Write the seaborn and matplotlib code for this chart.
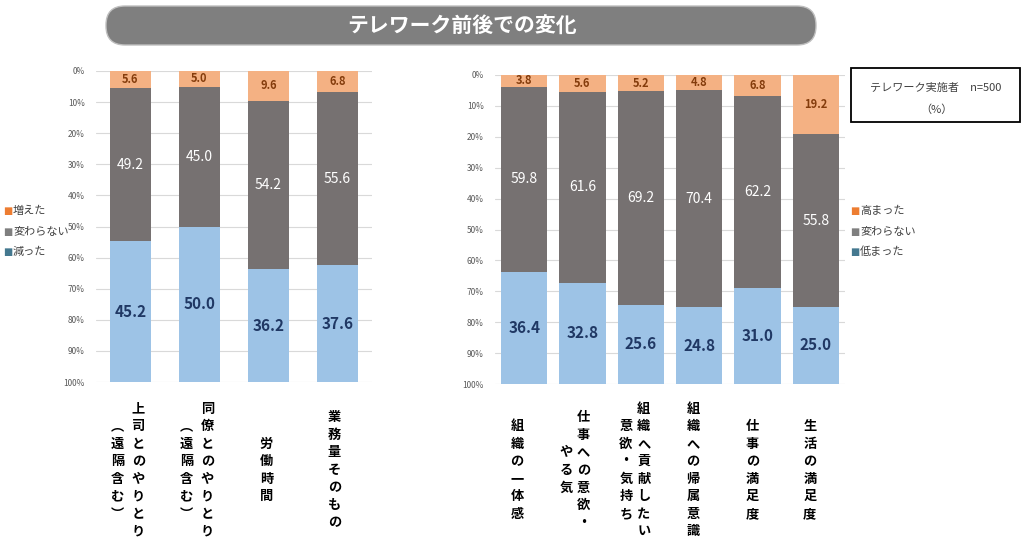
import numpy as np
import pandas as pd
import seaborn as sns
import matplotlib.pyplot as plt
from matplotlib.patches import FancyBboxPatch, Rectangle
from matplotlib.transforms import blended_transform_factory, offset_copy

# left chart: relationships / workload
left_cats = ["上司", "同僚", "労働時間", "業務量"]
left_up = [5.6, 5.0, 9.6, 6.8]
left_same = [49.2, 45.0, 54.2, 55.6]
left_down = [45.2, 50.0, 36.2, 37.6]
left_labels = [["上司とのやりとり", "︵遠隔含む︶"],
               ["同僚とのやりとり", "︵遠隔含む︶"],
               ["労働時間"],
               ["業務量そのもの"]]

# right chart: motivation / belonging
right_cats = ["一体感", "意欲", "貢献", "帰属", "仕事満足", "生活満足"]
right_up = [3.8, 5.6, 5.2, 4.8, 6.8, 19.2]
right_same = [59.8, 61.6, 69.2, 70.4, 62.2, 55.8]
right_down = [36.4, 32.8, 25.6, 24.8, 31.0, 25.0]
right_labels = [["組織の一体感"],
                ["仕事への意欲・", "やる気"],
                ["組織へ貢献したい", "意欲・気持ち"],
                ["組織への帰属意識"],
                ["仕事の満足度"],
                ["生活の満足度"]]

C_UP = "#F4B183"
C_SAME = "#767171"
C_DOWN = "#9DC3E6"

sns.set_theme(style="white")
plt.rcParams['font.family'] = ['Noto Sans CJK JP', 'DejaVu Sans']

fig = plt.figure(figsize=(10.24, 5.42), dpi=100)


def stacked(ax, cats, up, same, down, width, labels, offs):
    df = pd.DataFrame({"cat": cats, "up": up, "same": same, "down": down})
    df["total"] = df["up"] + df["same"] + df["down"]
    df["upsame"] = df["up"] + df["same"]
    sns.barplot(data=df, x="cat", y="total", color=C_DOWN, saturation=1,
                width=width, ax=ax, linewidth=0)
    sns.barplot(data=df, x="cat", y="upsame", color=C_SAME, saturation=1,
                width=width, ax=ax, linewidth=0)
    sns.barplot(data=df, x="cat", y="up", color=C_UP, saturation=1,
                width=width, ax=ax, linewidth=0)
    ax.set_ylim(100, 0)
    ax.set_xlim(-0.5, len(cats) - 0.5)
    ax.set_yticks(range(0, 101, 10))
    ax.set_yticklabels([f"{v}%" for v in range(0, 101, 10)])
    ax.tick_params(axis="y", length=0, pad=8, labelsize=6, labelcolor="#595959")
    ax.set_xticks([])
    ax.set_xlabel("")
    ax.set_ylabel("")
    ax.yaxis.grid(True, color="#D9D9D9", lw=0.8)
    ax.set_axisbelow(True)
    for s in ax.spines.values():
        s.set_visible(False)
    for i in range(len(cats)):
        u, m, d = up[i], same[i], down[i]
        ax.text(i, u / 2, f"{u:.1f}", ha="center", va="center", fontsize=8,
                fontweight="bold", color="#843C0C")
        ax.text(i, u + m / 2, f"{m:.1f}", ha="center", va="center",
                fontsize=10, color="white")
        ax.text(i, u + m + d / 2, f"{d:.1f}", ha="center", va="center",
                fontsize=11, fontweight="bold", color="#203864")
    # vertical japanese category labels
    tr = blended_transform_factory(ax.transData, fig.transFigure)
    for i, cols in enumerate(labels):
        for j, col in enumerate(cols):
            t = offset_copy(tr, fig=fig, x=offs[i][j], y=0, units="dots")
            ax.text(i, 1 - 470 / 542, "\n".join(col), transform=t,
                    ha="center", va="center", fontsize=9.5, fontweight="bold",
                    color="black", linespacing=1.32, clip_on=False)


ax1 = fig.add_axes([96 / 1024, 1 - 382 / 542, 276 / 1024, 311 / 542])
stacked(ax1, left_cats, left_up, left_same, left_down, 0.6, left_labels,
        [[8, -13], [8, -13], [-2], [-3]])

ax2 = fig.add_axes([495 / 1024, 1 - 384 / 542, 350 / 1024, 309 / 542])
stacked(ax2, right_cats, right_up, right_same, right_down, 0.79, right_labels,
        [[-7], [1, -16], [3, -15], [-6], [-5], [-6]])

# title banner
banner = FancyBboxPatch((1.06, 4.97), 7.10, 0.39,
                        boxstyle="round,pad=0,rounding_size=0.19",
                        transform=fig.dpi_scale_trans, facecolor="#7F7F7F",
                        edgecolor="#BFBFBF", lw=1)
fig.patches.append(banner)
fig.text(462 / 1024, 1 - 26 / 542, "テレワーク前後での変化", ha="center",
         va="center", fontsize=15, fontweight="bold", color="white")

# n=500 box
fig.patches.append(Rectangle((851 / 1024, 1 - 122 / 542), 169 / 1024, 54 / 542,
                             transform=fig.transFigure, fill=False,
                             edgecolor="black", lw=1.3))
fig.text(936 / 1024, 1 - 88 / 542, "テレワーク実施者　n=500", ha="center",
         va="center", fontsize=8, color="#404040")
fig.text(936 / 1024, 1 - 110 / 542, "（%）", ha="center", va="center",
         fontsize=8, color="#404040")

# legends
leg_colors = ["#ED7D31", "#7F7F7F", "#44788F"]
for x0, names in [(3, ["増えた", "変わらない", "減った"]),
                  (850, ["高まった", "変わらない", "低まった"])]:
    for k, (c, name) in enumerate(zip(leg_colors, names)):
        y = 1 - (211 + k * 20.5) / 542
        fig.text(x0 / 1024, y, "■", color=c, fontsize=7, va="center",
                 family=['DejaVu Sans'])
        fig.text((x0 + 10) / 1024, y, name, color="#404040", fontsize=8,
                 va="center")

fig.savefig("out.png", dpi=100)
